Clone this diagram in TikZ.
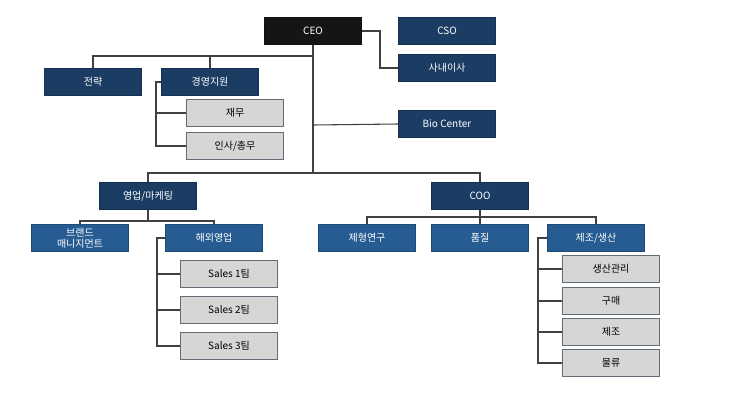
\documentclass[tikz,border=0pt]{standalone}
\usepackage{fontspec}
\setmainfont{Noto Sans CJK KR}
\definecolor{navy}{HTML}{1C3D63}
\definecolor{midblue}{HTML}{275C93}
\definecolor{lgray}{HTML}{D6D6D6}
\definecolor{ceoblack}{HTML}{151515}
\begin{document}
\begin{tikzpicture}[x=0.75pt,y=-0.75pt,
 box/.style={draw=#1!80!black,fill=#1,text=white,minimum width=73pt,minimum height=20pt,inner sep=0pt,font=\fontsize{7.5}{8.5}\selectfont,align=center},
 dk/.style={box=navy},
 bl/.style={box=midblue},
 gr/.style={draw=gray!70!navy,fill=lgray,text=black,minimum width=73pt,minimum height=20pt,inner sep=0pt,font=\fontsize{7.5}{8.5}\selectfont,line width=0.8pt},
 ln/.style={draw=black!75,line width=0.8pt}]
\useasboundingbox (0,0) rectangle (730,400);
\node[box=ceoblack] (ceo) at (313,31) {CEO};
\node[dk] (cso) at (447,31) {CSO};
\node[dk] (sanae) at (447,68) {사내이사};
\node[dk] (jr) at (93,82) {전략};
\node[dk] (gy) at (210,82) {경영지원};
\node[gr] (jm) at (235,113) {재무};
\node[gr] (is) at (235,146) {인사/총무};
\node[dk] (bio) at (447,124) {Bio Center};
\node[dk] (ym) at (148,196) {영업/마케팅};
\node[dk] (coo) at (480,196) {COO};
\node[bl] (br) at (80,238) {브랜드\\매니지먼트};
\node[bl] (hw) at (214,238) {해외영업};
\node[gr] (s1) at (229,274) {Sales 1팀};
\node[gr] (s2) at (229,310) {Sales 2팀};
\node[gr] (s3) at (229,346) {Sales 3팀};
\node[bl] (jh) at (367,238) {제형연구};
\node[bl] (pj) at (480,238) {품질};
\node[bl] (js) at (596,238) {제조/생산};
\node[gr] (sg) at (611,269) {생산관리};
\node[gr] (gm) at (611,301) {구매};
\node[gr] (jj) at (611,332) {제조};
\node[gr] (ml) at (611,363) {물류};
\draw[ln] (ceo.south) -- (313,173);
\draw[ln] (ceo.east) -- (380,31) |- (sanae.west);
\draw[ln] (313,56) -| (jr.north);
\draw[ln] (313,56) -| (gy.north);
\draw[ln] (gy.west) -- (156,82) |- (is.west);
\draw[ln] (156,113) -- (jm.west);
\draw[ln] (313,125) -- (bio.west);
\draw[ln] (313,173) -| (ym.north);
\draw[ln] (313,173) -| (coo.north);
\draw[ln] (ym.south) -- (148,221);
\draw[ln] (148,221) -| (br.north);
\draw[ln] (148,221) -| (hw.north);
\draw[ln] (hw.west) -- (157,238) |- (s3.west);
\draw[ln] (157,274) -- (s1.west);
\draw[ln] (157,310) -- (s2.west);
\draw[ln] (coo.south) -- (480,217);
\draw[ln] (480,217) -| (jh.north);
\draw[ln] (480,217) -| (js.north);
\draw[ln] (480,217) -- (pj.north);
\draw[ln] (js.west) -- (538,238) |- (ml.west);
\draw[ln] (538,269) -- (sg.west);
\draw[ln] (538,301) -- (gm.west);
\draw[ln] (538,332) -- (jj.west);
\end{tikzpicture}
\end{document}
